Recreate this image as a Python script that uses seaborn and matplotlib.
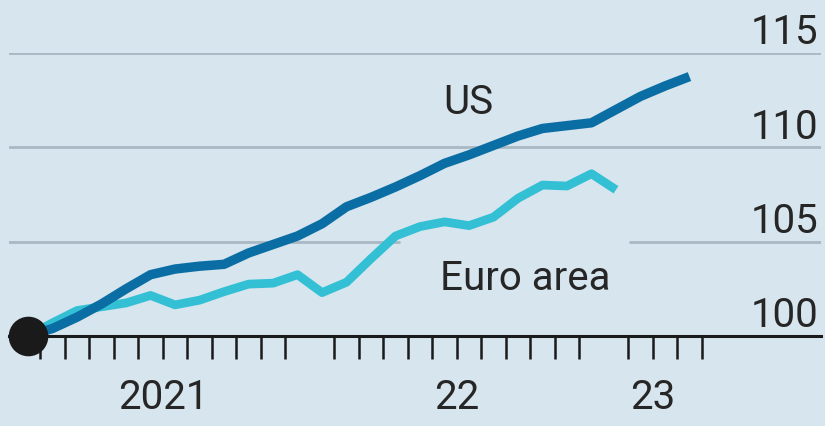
import numpy as np
import pandas as pd
import matplotlib.pyplot as plt
import seaborn as sns

# Monthly index values, Jan 2021 = 100
months = pd.period_range('2021-01', '2023-04', freq='M').astype(str)
us = [100.0, 100.4, 101.0, 101.7, 102.5, 103.25, 103.55, 103.7, 103.8, 104.4,
      104.85, 105.3, 105.95, 106.85, 107.35, 107.9, 108.5, 109.15, 109.6, 110.1,
      110.6, 111.0, 111.15, 111.3, 112.0, 112.7, 113.25, 113.75]
euro = [100.0, 100.7, 101.35, 101.55, 101.75, 102.15, 101.65, 101.9, 102.35, 102.75,
        102.8, 103.25, 102.3, 102.85, 104.1, 105.3, 105.8, 106.05, 105.85, 106.3,
        107.3, 108.0, 107.95, 108.6, 107.75]
y_ticks = [100, 105, 110, 115]
year_labels = ['2021', '22', '23']
year_label_pos = [5.5, 17.5, 25.5]

df_us = pd.DataFrame({'month': np.arange(len(us)), 'value': us})
df_eu = pd.DataFrame({'month': np.arange(len(euro)), 'value': euro})

bg = '#d6e5ee'
grid_col = '#a9b8c2'
txt_col = '#262626'

sns.set_style('white')
plt.rcParams['font.family'] = ['Roboto', 'DejaVu Sans']

fig = plt.figure(figsize=(8.25, 4.27), dpi=100, facecolor=bg)
ax = fig.add_axes([9 / 825, 1 - 337 / 427, 812 / 825, 283 / 427])
ax.set_facecolor(bg)

ax.set_xlim(-0.78, 32.37)
ax.set_ylim(100, 115)

# gridlines (105 is interrupted around the Euro area label)
ax.axhline(115, color=grid_col, lw=2, zorder=1)
ax.axhline(110, color=grid_col, lw=2, zorder=1)
ax.axhline(105, xmin=0, xmax=0.48, color=grid_col, lw=2, zorder=1)
ax.axhline(105, xmin=0.765, xmax=1, color=grid_col, lw=2, zorder=1)

sns.lineplot(data=df_eu, x='month', y='value', ax=ax, color='#33c0d4', lw=6.3,
             solid_capstyle='butt', solid_joinstyle='round', zorder=3)
sns.lineplot(data=df_us, x='month', y='value', ax=ax, color='#0a6ea4', lw=6.8,
             solid_capstyle='butt', solid_joinstyle='round', zorder=4)
ax.plot([0], [us[0]], 'o', color='#1a1a1a', markersize=27.5, clip_on=False, zorder=6)

for s in ['top', 'left', 'right']:
    ax.spines[s].set_visible(False)
ax.spines['bottom'].set_color('#1a1a1a')
ax.spines['bottom'].set_linewidth(2.2)
ax.spines['bottom'].set_zorder(5)

ax.set_xticks([-0.5, 11.5, 23.5])
ax.set_xticks(np.arange(-0.5, 28, 1), minor=True)
ax.tick_params(axis='x', which='major', direction='out', length=27, width=1.8,
               color='#1a1a1a', labelbottom=False)
ax.tick_params(axis='x', which='minor', direction='out', length=16.5, width=1.8,
               color='#1a1a1a', bottom=True)
ax.set_yticks([])
ax.set_xlabel('')
ax.set_ylabel('')

for lab, pos in zip(year_labels, year_label_pos):
    ax.text(pos, -0.215, lab, transform=ax.get_xaxis_transform(), ha='center',
            va='center', fontsize=29, color=txt_col)

for v in y_ticks:
    ax.annotate(str(v), xy=(1, v), xycoords=ax.get_yaxis_transform(),
                xytext=(-2, 7), textcoords='offset points', ha='right',
                va='baseline', fontsize=29, color=txt_col, annotation_clip=False)

ax.text(16.94, 111.8, 'US', ha='left', va='baseline', fontsize=29, color=txt_col)
ax.text(16.82, 102.5, 'Euro area', ha='left', va='baseline', fontsize=29, color=txt_col)

plt.savefig('out.png', dpi=100, facecolor=bg)
